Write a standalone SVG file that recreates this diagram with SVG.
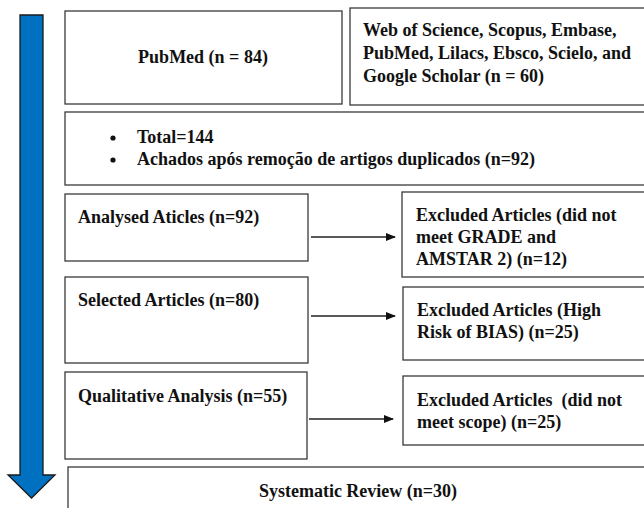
<svg xmlns="http://www.w3.org/2000/svg" width="644" height="508" viewBox="0 0 644 508">
<defs>
<marker id="ah" markerWidth="10" markerHeight="8" refX="9" refY="4" orient="auto" markerUnits="userSpaceOnUse">
<path d="M0,0 L10,4 L0,8 Z" fill="#111"/>
</marker>
<style>
.box{fill:#fff;stroke:#3a3a3a;stroke-width:1.3}
.t{font-family:"Liberation Serif","Times New Roman",serif;font-weight:bold;font-size:18px;fill:#111}
.c{stroke:#222;stroke-width:1.3;fill:none}
</style>
</defs>
<rect width="644" height="508" fill="#fff"/>
<g id="flow-arrow">
<path d="M20,15 L43,15 L43,475 L55,475 L31.5,498 L8,475 L20,475 Z" fill="#0070C0" stroke="#1a1a1a" stroke-width="1.3" stroke-linejoin="miter"/>
</g>
<g id="pubmed">
<rect class="box" x="65" y="11" width="277" height="93"/>
<text class="t" x="203" y="63" text-anchor="middle">PubMed (n = 84)</text>
</g>
<g id="other-databases">
<rect class="box" x="350" y="8" width="300" height="97"/>
<text class="t" x="363" y="36">Web of Science, Scopus, Embase,</text>
<text class="t" x="363" y="59">PubMed, Lilacs, Ebsco, Scielo, and</text>
<text class="t" x="363" y="82">Google Scholar (n = 60)</text>
</g>
<g id="total">
<rect class="box" x="65" y="112" width="590" height="73"/>
<circle cx="113" cy="138" r="2.6" fill="#111"/>
<circle cx="113" cy="160" r="2.6" fill="#111"/>
<text class="t" x="137" y="143">Total=144</text>
<text class="t" x="137" y="165">Achados após remoção de artigos duplicados (n=92)</text>
</g>
<g id="analysed">
<rect class="box" x="65" y="194" width="243" height="67"/>
<text class="t" x="78" y="223">Analysed Aticles (n=92)</text>
</g>
<g id="selected">
<rect class="box" x="65" y="277" width="243" height="86"/>
<text class="t" x="78" y="306">Selected Articles (n=80)</text>
</g>
<g id="qualitative">
<rect class="box" x="65" y="372" width="242" height="87"/>
<text class="t" x="78" y="402">Qualitative Analysis (n=55)</text>
</g>
<g id="excluded-1">
<rect class="box" x="402" y="192" width="250" height="85"/>
<text class="t" x="416" y="221">Excluded Articles (did not</text>
<text class="t" x="416" y="243">meet GRADE and</text>
<text class="t" x="416" y="265">AMSTAR 2) (n=12)</text>
</g>
<g id="excluded-2">
<rect class="box" x="403" y="287" width="250" height="73"/>
<text class="t" x="417" y="316">Excluded Articles (High</text>
<text class="t" x="417" y="338">Risk of BIAS) (n=25)</text>
</g>
<g id="excluded-3">
<rect class="box" x="403" y="376" width="250" height="69"/>
<text class="t" x="417" y="406" xml:space="preserve">Excluded Articles  (did not</text>
<text class="t" x="417" y="428">meet scope) (n=25)</text>
</g>
<g id="systematic-review">
<rect class="box" x="68" y="467" width="590" height="60"/>
<text class="t" x="358" y="497" text-anchor="middle">Systematic Review (n=30)</text>
</g>
<g id="connectors">
<line class="c" x1="311" y1="237" x2="395" y2="237" marker-end="url(#ah)"/>
<line class="c" x1="311" y1="316" x2="395" y2="316" marker-end="url(#ah)"/>
<line class="c" x1="309" y1="419" x2="393" y2="419" marker-end="url(#ah)"/>
</g>
</svg>
